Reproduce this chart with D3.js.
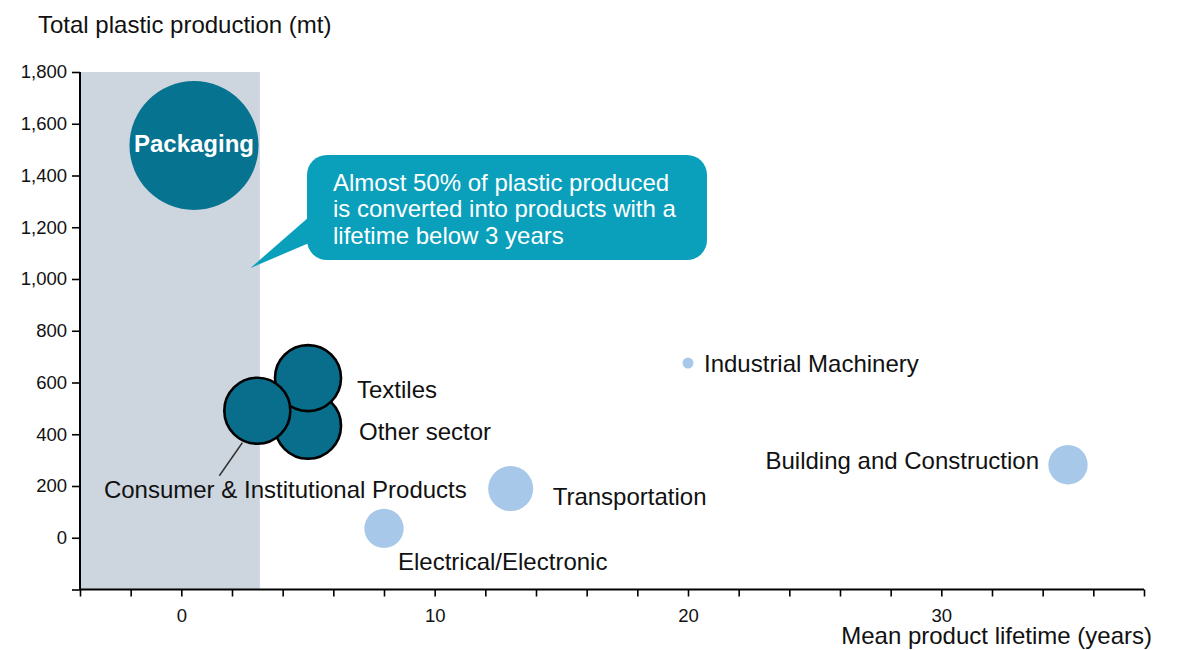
<!DOCTYPE html>
<html>
<head>
<meta charset="utf-8">
<script src="https://cdn.jsdelivr.net/npm/d3@7"></script>
<style>
  body { margin: 0; background: #fff; }
  svg text { font-family: "Liberation Sans", Arial, sans-serif; }
</style>
</head>
<body>
<svg id="chart" width="1182" height="650"></svg>
<script>
// sectors, mean lifetime (years), production (mt), bubble size
let sectors = ['Other sector', 'Textiles', 'Consumer & Institutional Products', 'Packaging',
    'Transportation', 'Electrical/Electronic', 'Industrial Machinery', 'Building and Construction']
let lifetime = [5, 5, 3, 0.5, 13, 8, 20, 35]
let production = [433, 617, 491, 1516, 190, 36, 675, 282]
let bubbleSize = [26.2, 26.2, 26.2, 100, 12.2, 9.3, 0.73, 9.3]
let group = ['dark', 'dark', 'dark', 'main', 'light', 'light', 'light', 'light']

let yTicks = [-200, 0, 200, 400, 600, 800, 1000, 1200, 1400, 1600, 1800]
let xTicks = [-4, -2, 0, 2, 4, 6, 8, 10, 12, 14, 16, 18, 20, 22, 24, 26, 28, 30, 32, 34, 36, 38]
let xLabels = [0, 10, 20, 30]
let shortLife = [-4, 3.1]
let calloutLines = ['Almost 50% of plastic produced', 'is converted into products with a', 'lifetime below 3 years']

// label placement relative to bubble centre
let labelPos = {
    'Other sector': {dx: 51, dy: 14, anchor: 'start'},
    'Textiles': {dx: 49, dy: 20, anchor: 'start'},
    'Consumer & Institutional Products': {dx: 28, dy: 87, anchor: 'middle'},
    'Transportation': {dx: 42, dy: 16, anchor: 'start'},
    'Electrical/Electronic': {dx: 14, dy: 42, anchor: 'start'},
    'Industrial Machinery': {dx: 16, dy: 9, anchor: 'start'},
    'Building and Construction': {dx: -29, dy: 4, anchor: 'end'}
}

let colors = {dark: '#086e8c', main: '#067390', light: '#a8c8e9'}

let data = sectors.map((s, i) => ({name: s, x: lifetime[i], y: production[i], size: bubbleSize[i], group: group[i]}))

let svg = d3.select('#chart')

let x = d3.scaleLinear().domain([-4, 38]).range([80, 1144])
let y = d3.scaleLinear().domain([-200, 1800]).range([589.5, 72])
let r = d3.scaleSqrt().domain([0, 100]).range([0, 64.5])

// short lifetime band
svg.append('rect')
    .attr('x', x(shortLife[0]))
    .attr('y', y(1800))
    .attr('width', x(shortLife[1]) - x(shortLife[0]))
    .attr('height', y(-200) - y(1800))
    .attr('fill', '#cdd5df')

// axes
let yAxis = svg.append('g')
    .attr('transform', `translate(${x(-4)},0)`)
    .call(d3.axisLeft(y).tickValues(yTicks).tickSize(8).tickPadding(5)
        .tickFormat(d => d < 0 ? '' : d3.format(',')(d)))
yAxis.select('.domain').attr('stroke', '#000').attr('stroke-width', 2).attr('d', `M0,${y(1800)}V${y(-200)}`)
yAxis.selectAll('.tick line').attr('stroke', '#000').attr('stroke-width', 1.6)
yAxis.selectAll('.tick text').attr('font-size', 18.5).attr('fill', '#111').attr('font-family', '"Liberation Sans", Arial, sans-serif')

let xAxis = svg.append('g')
    .attr('transform', `translate(0,${y(-200)})`)
    .call(d3.axisBottom(x).tickValues(xTicks).tickSize(7).tickPadding(12)
        .tickFormat(d => xLabels.includes(d) ? d : ''))
xAxis.select('.domain').attr('stroke', '#000').attr('stroke-width', 2).attr('d', `M${x(-4)},0H${x(38)}`)
xAxis.selectAll('.tick line').attr('stroke', '#000').attr('stroke-width', 1.6)
xAxis.selectAll('.tick text').attr('font-size', 18.5).attr('fill', '#111').attr('font-family', '"Liberation Sans", Arial, sans-serif')

// axis titles
svg.append('text')
    .attr('x', 38).attr('y', 33)
    .attr('font-size', 24).attr('fill', '#111')
    .text('Total plastic production (mt)')

svg.append('text')
    .attr('x', 1152).attr('y', 644)
    .attr('text-anchor', 'end')
    .attr('font-size', 24).attr('fill', '#111')
    .text('Mean product lifetime (years)')

// leader line for consumer products
let cons = data.find(d => d.name === 'Consumer & Institutional Products')
svg.append('line')
    .attr('x1', x(cons.x) - 38).attr('y1', y(cons.y) + 65)
    .attr('x2', x(cons.x) - 15).attr('y2', y(cons.y) + 32)
    .attr('stroke', '#333').attr('stroke-width', 1.5)

// bubbles
svg.selectAll('.bubble')
    .data(data)
    .enter().append('circle')
    .attr('class', 'bubble')
    .attr('cx', d => x(d.x))
    .attr('cy', d => y(d.y))
    .attr('r', d => r(d.size))
    .attr('fill', d => colors[d.group])
    .attr('stroke', d => d.group === 'dark' ? '#000' : 'none')
    .attr('stroke-width', 2.6)

// labels
svg.selectAll('.blabel')
    .data(data.filter(d => labelPos[d.name]))
    .enter().append('text')
    .attr('class', 'blabel')
    .attr('x', d => x(d.x) + labelPos[d.name].dx)
    .attr('y', d => y(d.y) + labelPos[d.name].dy)
    .attr('text-anchor', d => labelPos[d.name].anchor)
    .attr('font-size', 24).attr('fill', '#111')
    .text(d => d.name)

let pack = data.find(d => d.name === 'Packaging')
svg.append('text')
    .attr('x', x(pack.x)).attr('y', y(pack.y) + 7)
    .attr('text-anchor', 'middle')
    .attr('font-size', 24).attr('font-weight', 'bold').attr('fill', '#fff')
    .text('Packaging')

// callout
let cb = {x0: 307, y0: 155, x1: 707, y1: 260, rad: 20}
let callout = svg.append('g')
callout.append('rect')
    .attr('x', cb.x0).attr('y', cb.y0)
    .attr('width', cb.x1 - cb.x0).attr('height', cb.y1 - cb.y0)
    .attr('rx', cb.rad)
    .attr('fill', '#0a9fbb')
callout.append('path')
    .attr('d', `M${cb.x0 + 2},217 L250.5,268 L${cb.x0 + 2},243 Z`)
    .attr('fill', '#0a9fbb')
callout.selectAll('text')
    .data(calloutLines)
    .enter().append('text')
    .attr('x', 333)
    .attr('y', (d, i) => 191 + i * 26.3)
    .attr('font-size', 24).attr('fill', '#fff')
    .text(d => d)
</script>
</body>
</html>
